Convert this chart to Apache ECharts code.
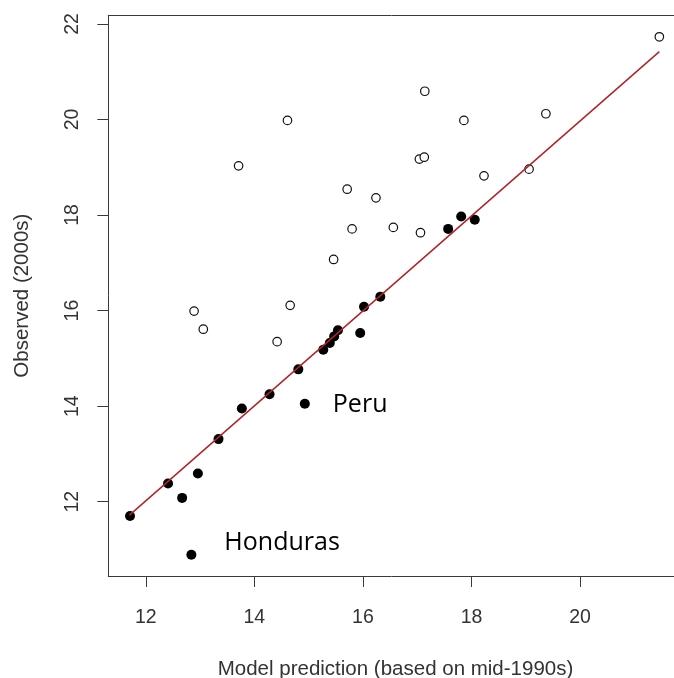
<!DOCTYPE html>
<html>
<head>
<meta charset="utf-8">
<script src="https://cdn.jsdelivr.net/npm/echarts@6/dist/echarts.min.js"></script>
<style>
html,body{margin:0;padding:0;background:#fff;}
#chart{width:674px;height:678px;}
</style>
</head>
<body>
<div id="chart"></div>
<script>
// Filled points (close to prediction)
const filledX = [11.71, 12.41, 12.67, 12.84, 12.96, 13.34, 13.77, 14.28, 14.81, 14.93, 15.27, 15.39, 15.47, 15.54, 15.95, 16.02, 16.32, 17.57, 17.81, 18.06];
const filledY = [11.70, 12.38, 12.08, 10.89, 12.59, 13.31, 13.95, 14.25, 14.77, 14.05, 15.18, 15.32, 15.46, 15.59, 15.53, 16.08, 16.29, 17.71, 17.97, 17.90];
const filledNames = ['', '', '', 'Honduras', '', '', '', '', '', 'Peru', '', '', '', '', '', '', '', '', '', ''];
// Open points
const openX = [12.89, 13.06, 13.71, 14.42, 14.61, 14.66, 15.46, 15.71, 15.80, 16.24, 16.56, 17.04, 17.06, 17.13, 17.14, 17.86, 18.23, 19.06, 19.37, 21.46];
const openY = [15.99, 15.61, 19.03, 15.35, 19.98, 16.11, 17.07, 18.54, 17.71, 18.36, 17.74, 19.17, 17.63, 19.21, 20.59, 19.98, 18.82, 18.96, 20.12, 21.73];
// Fitted line end points
const lineX = [11.70, 21.46];
const lineY = [11.72, 21.42];
// Ticks
const xTicks = [12, 14, 16, 18, 20];
const yTicks = [12, 14, 16, 18, 20, 22];
const xTitle = 'Model prediction (based on mid-1990s)';
const yTitle = 'Observed (2000s)';

const labelOffsets = { 'Peru': [1, 1], 'Honduras': [6, -12] };

const filledData = filledX.map((x, i) => {
  const d = { value: [x, filledY[i]] };
  const n = filledNames[i];
  if (n) {
    d.name = n;
    d.label = {
      show: true, formatter: n, position: 'right', distance: 22,
      offset: labelOffsets[n], fontFamily: 'Open Sans', fontSize: 25, color: '#000'
    };
  }
  return d;
});
const openData = openX.map((x, i) => [x, openY[i]]);
const lineData = lineX.map((x, i) => [x, lineY[i]]);

const axisTextColor = '#333';
const axisLineColor = '#3a3a3a';
const X_MIN = 11.31, X_MAX = 21.89;

const chart = echarts.init(document.getElementById('chart'), null, { renderer: 'canvas' });
chart.setOption({
  animation: false,
  backgroundColor: '#fff',
  grid: { left: 108.3, top: 15.3, width: 574.4, height: 560.7, show: false, containLabel: false, outerBoundsMode: 'none' },
  xAxis: [{
    type: 'value', min: X_MIN, max: X_MAX,
    name: xTitle, nameLocation: 'middle', nameGap: 83,
    nameTextStyle: { fontFamily: 'Liberation Sans', fontSize: 20.5, color: axisTextColor },
    splitLine: { show: false },
    axisLine: { show: true, lineStyle: { color: axisLineColor, width: 1 } },
    axisTick: { show: true, inside: false, length: 11, customValues: xTicks, lineStyle: { color: axisLineColor, width: 1 } },
    axisLabel: { customValues: xTicks, margin: 32, fontFamily: 'Liberation Sans', fontSize: 19.5, color: axisTextColor }
  }, {
    type: 'value', position: 'top', min: X_MIN, max: X_MAX,
    splitLine: { show: false },
    axisLine: { show: true, lineStyle: { color: axisLineColor, width: 1 } },
    axisTick: { show: false }, axisLabel: { show: false }
  }],
  yAxis: {
    type: 'value', min: 10.445, max: 22.18,
    name: yTitle, nameLocation: 'middle', nameGap: 75,
    nameTextStyle: { fontFamily: 'Liberation Sans', fontSize: 20.5, color: axisTextColor },
    splitLine: { show: false },
    axisLine: { show: true, lineStyle: { color: axisLineColor, width: 1 } },
    axisTick: { show: true, inside: false, length: 11, customValues: yTicks, lineStyle: { color: axisLineColor, width: 1 } },
    axisLabel: { customValues: yTicks, rotate: 90, margin: 26, fontFamily: 'Liberation Sans', fontSize: 19.5, color: axisTextColor }
  },
  series: [
    {
      type: 'scatter', data: openData, symbol: 'circle', symbolSize: 8.5, z: 3,
      itemStyle: { color: '#fff', borderColor: '#111', borderWidth: 1.2, opacity: 1 }
    },
    {
      type: 'scatter', data: filledData, symbol: 'circle', symbolSize: 10, z: 3,
      itemStyle: { color: '#000', opacity: 1 }
    },
    {
      type: 'line', data: lineData, symbol: 'none', z: 4, silent: true,
      lineStyle: { color: '#b0232a', width: 1.5 }
    }
  ]
});
</script>
</body>
</html>
